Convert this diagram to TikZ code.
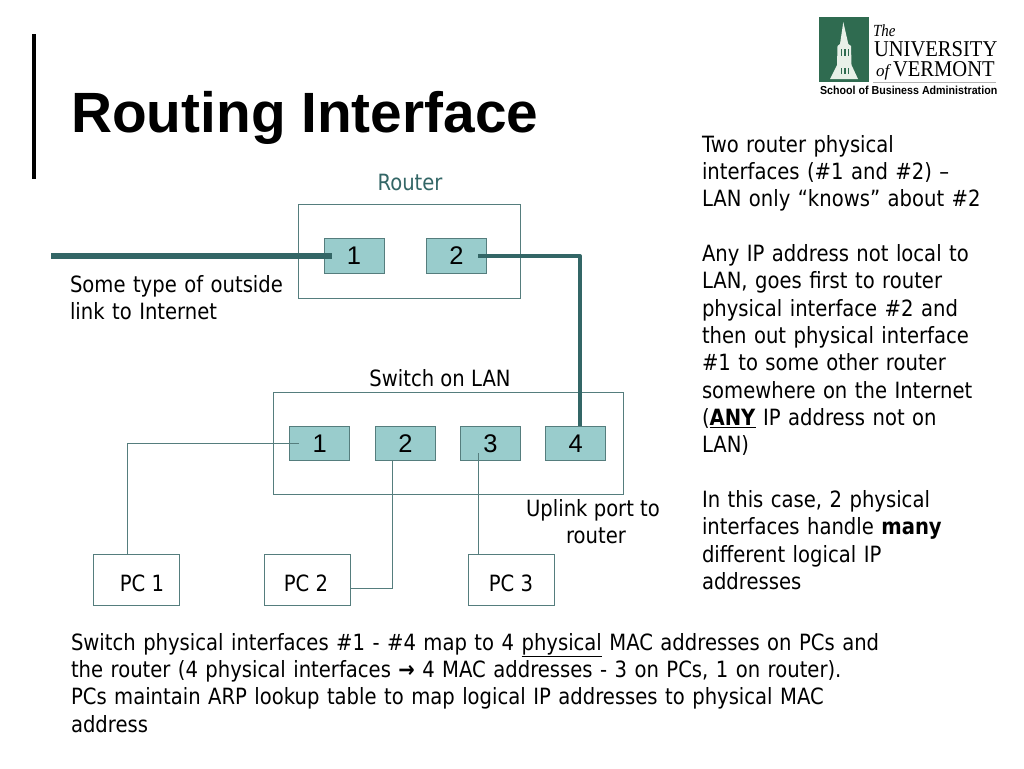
\documentclass[tikz,border=0pt]{standalone}
\usepackage{fontspec}
\setmainfont{DejaVu Sans}[FakeStretch=0.875]
\newfontfamily\arialfont{Liberation Sans}
\newfontfamily\timesfont{Liberation Serif}
\usepackage{tikz}
\usetikzlibrary{calc}
\definecolor{linkteal}{RGB}{51, 102, 102}
\definecolor{edgeteal}{RGB}{85, 125, 125}
\definecolor{portfill}{RGB}{153, 204, 204}
\definecolor{logogreen}{RGB}{47, 107, 80}
\definecolor{towerwhite}{RGB}{232, 240, 232}
\newcommand{\bodysize}{\fontsize{22.4}{27.35}\selectfont}
\tikzset{
    portbox/.style={draw=edgeteal, line width=1pt, fill=portfill, minimum width=60pt, minimum height=34.5pt, inner sep=0pt, outer sep=0pt, font=\arialfont\fontsize{25.5}{27}\selectfont},
    outerbox/.style={draw=edgeteal, line width=1pt, inner sep=0pt, outer sep=0pt},
    pcbox/.style={draw=edgeteal, line width=1pt, minimum width=86pt, minimum height=51.5pt, inner sep=0pt, outer sep=0pt},
    bodytext/.style={inner sep=0pt, outer sep=0pt, align=left, anchor=north west, font=\bodysize},
    thinlink/.style={draw=edgeteal, line width=1pt},
    uplink/.style={draw=linkteal, line width=4pt, line join=round},
    logotext/.style={inner sep=0pt, outer sep=0pt, anchor=base west, text=black}
}
\begin{document}
\begin{tikzpicture}[x=1pt, y=-1pt]
\useasboundingbox (0,0) rectangle (1024,768);
% Title and the bar next to it
\fill[black] (32.3,34) rectangle (36.3,179);
\node[inner sep=0pt, anchor=base west, font=\arialfont\bfseries\fontsize{56.8}{60}\selectfont] (title) at (71,132) {Routing Interface};

% Router
\node[outerbox, minimum width=222pt, minimum height=94pt] (router) at (409.3,251.3) {};
\node[text=linkteal, inner sep=0pt, font=\bodysize] (routerlabel) at (410,182) {Router};
\foreach \name/\x/\val in {rone/354/1, rtwo/456.4/2} {
    \node[portbox] (\name) at (\x,256) {\val};
}

% Switch
\node[outerbox, minimum width=350pt, minimum height=102.5pt] (switch) at (448,443.5) {};
\node[inner sep=0pt, font=\bodysize] (switchlabel) at (440,378) {Switch on LAN};
\foreach \name/\x/\val in {sone/319.7/1, stwo/405.4/2, sthree/490.4/3, sfour/575.8/4} {
    \node[portbox] (\name) at (\x,443.5) {\val};
}

% PCs
\foreach \name/\x in {pcone/136.4, pctwo/307.2, pcthree/511.8} {
    \node[pcbox] (\name) at (\x,580) {};
}
\foreach \name/\x/\val in {pconelabel/142/PC 1, pctwolabel/306/PC 2, pcthreelabel/511/PC 3} {
    \node[inner sep=0pt, font=\bodysize] (\name) at (\x,583) {\val};
}

% Links
\coordinate (outside) at (51,255.5);
\draw[linkteal, line width=6pt] (outside) -- ([xshift=-22pt]rone.center |- outside);
\draw[uplink] ([xshift=22pt]rtwo.center) -| ([xshift=4.2pt]sfour.north);
\draw[thinlink] ([xshift=-8.5pt]pcone.north) |- ([xshift=-21pt]sone.center);
\draw[thinlink] ([yshift=-8.5pt]pctwo.east) -| ([xshift=-12.5pt]stwo.south);
\draw[thinlink] ([xshift=-33.8pt]pcthree.north) -- ([xshift=-12.4pt,yshift=-9pt]sthree.center);

% Free text
\node[bodytext, text width=290pt] (outsidenote) at (70,275.5) {Some type of outside\\link to Internet};
\node[inner sep=0pt, align=center, font=\bodysize] (uplinknote) at (593,521.5) {Uplink port to\\\hspace*{6pt}router};
\node[bodytext, text width=320pt] (sidenote) at (702,135) {Two router physical\\interfaces (\#1 and \#2) --\\LAN only “knows” about \#2\\\mbox{}\\Any IP address not local to\\LAN, goes first to router\\physical interface \#2 and\\then out physical interface\\\#1 to some other router\\somewhere on the Internet\\(\underline{\textbf{ANY}} IP address not on\\LAN)\\\mbox{}\\In this case, 2 physical\\interfaces handle \textbf{many}\\different logical IP\\addresses};
\node[bodytext, text width=900pt] (bottomnote) at (71,633) {Switch physical interfaces \#1 - \#4 map to 4 \underline{physical} MAC addresses on PCs and\\the router (4 physical interfaces \textbf{→} 4 MAC addresses - 3 on PCs, 1 on router).\\PCs maintain ARP lookup table to map logical IP addresses to physical MAC\\address};

% Logo
\fill[logogreen] (819,17.3) rectangle (869.3,81.7);
\fill[towerwhite] (843.3,22) -- (848.3,44) -- (851,46) -- (851.5,65) -- (858,79) -- (830,79) -- (837,65) -- (837.5,46) -- (840,44) -- cycle;
\foreach \x in {840.5,844,847.5} {
    \fill[logogreen] (\x,49) rectangle ++(1.7,7);
    \fill[logogreen] (\x,68) rectangle ++(1.7,6);
}
\node[logotext, font=\timesfont\itshape\fontsize{17}{17}\selectfont, xscale=0.88, transform shape] (logothe) at (873,37) {The};
\node[logotext, font=\timesfont\fontsize{22.6}{22}\selectfont, xscale=0.91, transform shape] (logouni) at (874,56.8) {UNIVERSITY};
\node[logotext, font=\timesfont\itshape\fontsize{17}{17}\selectfont] (logoof) at (876,77) {of};
\node[logotext, font=\timesfont\fontsize{22.6}{22}\selectfont, xscale=0.91, transform shape] (logoverm) at (893,77) {VERMONT};
\draw[gray!60, line width=0.5pt] (873,82) -- (996,82);
\node[logotext, font=\arialfont\bfseries\fontsize{11.6}{12}\selectfont, xscale=0.92, transform shape] (logoschool) at (820,94.5) {School of Business Administration};
\end{tikzpicture}
\end{document}
